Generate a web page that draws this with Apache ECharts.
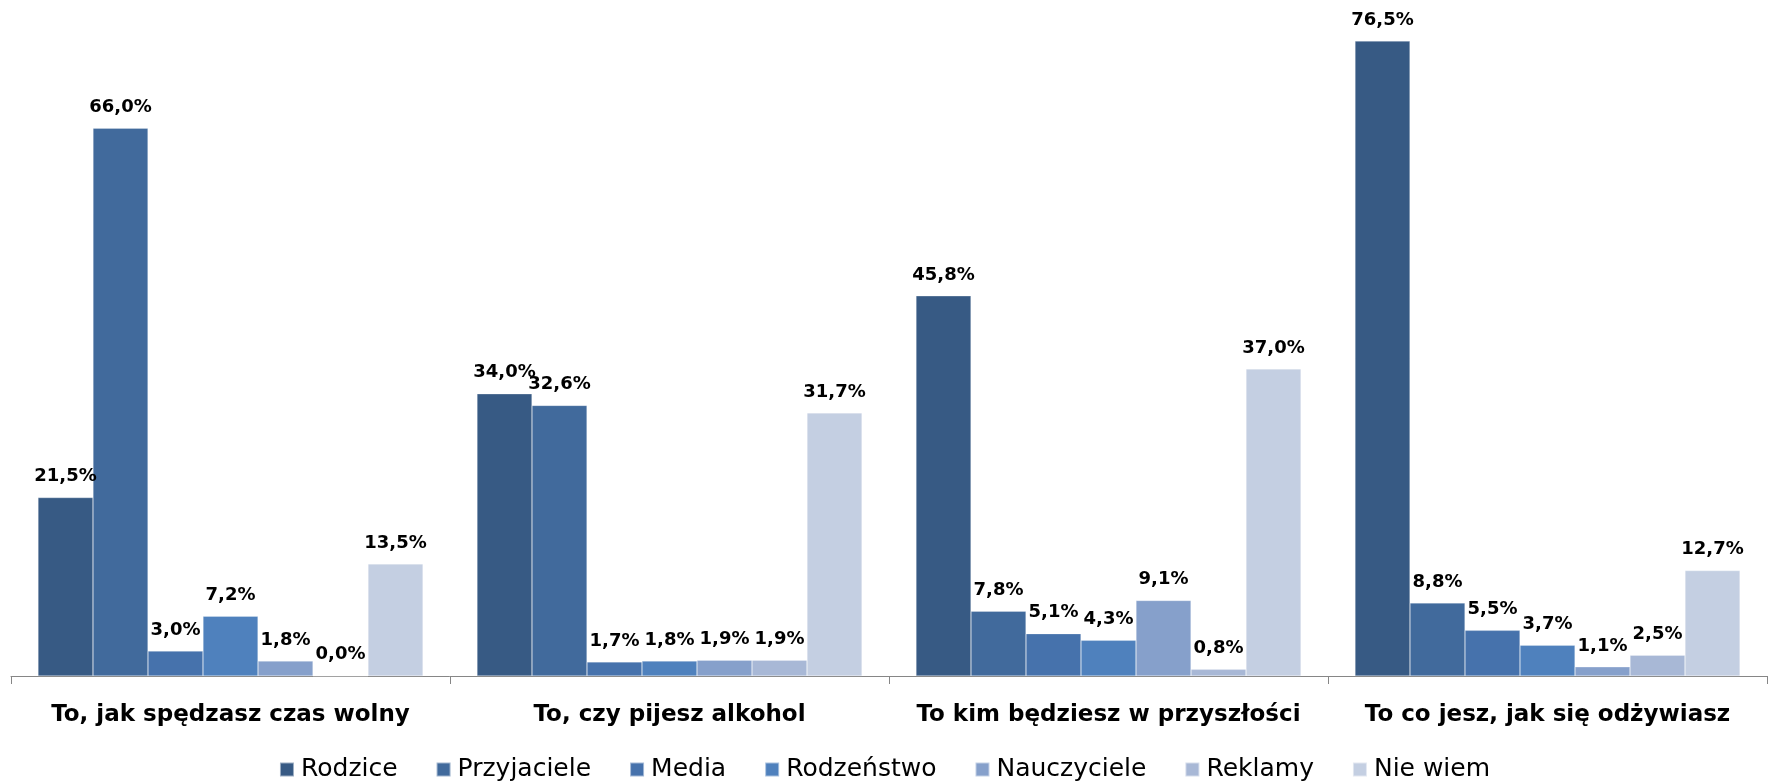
<!DOCTYPE html>
<html><head><meta charset="utf-8">
<script src="https://cdn.jsdelivr.net/npm/echarts@6/dist/echarts.min.js"></script>
<style>html,body{margin:0;padding:0;background:#fff}#c{width:1769px;height:781px}</style>
</head><body><div id="c"></div>
<script>
const categories = ["To, jak spędzasz czas wolny", "To, czy pijesz alkohol", "To kim będziesz w przyszłości", "To co jesz, jak się odżywiasz"];
const seriesNames = ["Rodzice", "Przyjaciele", "Media", "Rodzeństwo", "Nauczyciele", "Reklamy", "Nie wiem"];
const rodzice = [21.5, 34.0, 45.8, 76.5];
const przyjaciele = [66.0, 32.6, 7.8, 8.8];
const media = [3.0, 1.7, 5.1, 5.5];
const rodzenstwo = [7.2, 1.8, 4.3, 3.7];
const nauczyciele = [1.8, 1.9, 9.1, 1.1];
const reklamy = [0.0, 1.9, 0.8, 2.5];
const nieWiem = [13.5, 31.7, 37.0, 12.7];
const seriesData = [rodzice, przyjaciele, media, rodzenstwo, nauczyciele, reklamy, nieWiem];
const colors = ['#375A84', '#416A9C', '#4672AC', '#4F81BD', '#86A0CB', '#A8B8D6', '#C4CFE2'];

const chart = echarts.init(document.getElementById('c'));
chart.setOption({
  animation: false,
  grid: { left: 11, right: 2, top: 12, bottom: 105, containLabel: false },
  xAxis: {
    type: 'category', data: categories,
    axisLine: { lineStyle: { color: '#868686', width: 1 } },
    axisTick: { show: true, interval: 0, length: 8, lineStyle: { color: '#868686' } },
    axisLabel: { interval: 0, hideOverlap: false, fontFamily: 'DejaVu Sans', fontWeight: 'bold', fontSize: 23, color: '#000', margin: 28 }
  },
  yAxis: { type: 'value', min: 0, max: 80, show: false, splitLine: { show: false } },
  legend: {
    top: 752, left: 'center', icon: 'rect', itemWidth: 14, itemHeight: 14, itemGap: 38,
    textStyle: { fontFamily: 'DejaVu Sans', fontSize: 25, color: '#000', padding: [0, 0, 0, 2] },
    data: seriesNames
  },
  series: seriesNames.map((n, i) => ({
    name: n, type: 'bar', data: seriesData[i],
    barGap: '0%', barCategoryGap: '12.3%',
    itemStyle: { color: colors[i], borderColor: 'rgba(255,255,255,0.5)', borderWidth: 0.5 },
    label: {
      show: true, position: 'top', distance: 12,
      fontFamily: 'DejaVu Sans', fontWeight: 'bold', fontSize: 18, color: '#000',
      formatter: p => p.value.toFixed(1).replace('.', ',') + '%'
    }
  }))
});
</script></body></html>
